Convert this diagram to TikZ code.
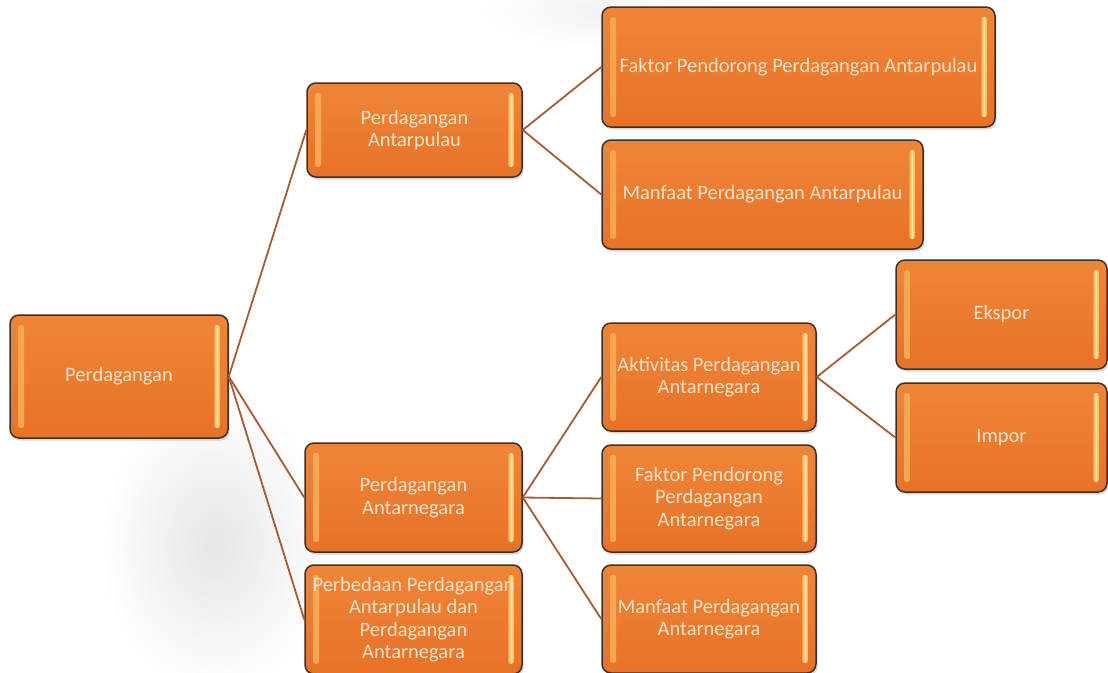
\documentclass[tikz,border=0pt]{standalone}
\usepackage{fontspec}
\setmainfont{Carlito}
\usetikzlibrary{shadows}
\definecolor{boxfill}{HTML}{EC7B2E}
\definecolor{boxtop}{HTML}{EF8538}
\definecolor{boxbot}{HTML}{E77227}
\definecolor{boxborder}{HTML}{3E3028}
\definecolor{boxtext}{HTML}{FBE2C8}
\definecolor{hlmid}{HTML}{FFE79A}
\definecolor{hledge}{HTML}{F4A04A}
\definecolor{linkcol}{HTML}{A65B30}
\tikzset{
  box/.style={rectangle, rounded corners=9pt, draw=boxborder, line width=1.5pt,
    top color=boxtop, bottom color=boxbot, text=boxtext, align=center,
    font=\fontsize{20.5}{22.5}\selectfont, inner sep=0pt,
    drop shadow={shadow xshift=1.5pt, shadow yshift=-2.5pt, opacity=0.25, fill=black!60},
    path picture={
      \shade[left color=hledge, right color=hledge, middle color=hlmid, rounded corners=2.5pt]
        ([xshift=8pt,yshift=-10pt]path picture bounding box.north west) rectangle
        ([xshift=14pt,yshift=10pt]path picture bounding box.south west);
      \shade[left color=hledge, right color=hledge, middle color=hlmid, rounded corners=2.5pt]
        ([xshift=-14pt,yshift=-10pt]path picture bounding box.north east) rectangle
        ([xshift=-8pt,yshift=10pt]path picture bounding box.south east);
    }},
  link/.style={draw=linkcol, line width=1.8pt}
}
\begin{document}
\begin{tikzpicture}[x=1pt,y=-1pt]
\useasboundingbox[fill=white] (0,0) rectangle (1108,672);
% faint background blur
\shade[inner color=black!10, outer color=white] (215,545) ellipse (115 and 150);
\shade[inner color=black!5, outer color=white] (600,10) ellipse (120 and 40);

\node[box, minimum width=218pt, minimum height=123pt] (perd) at (119,376.5) {Perdagangan};
\node[box, minimum width=215pt, minimum height=94pt] (pulau) at (414.5,130) {Perdagangan\\Antarpulau};
\node[box, minimum width=393pt, minimum height=120pt] (faktorP) at (798.5,67) {Faktor Pendorong Perdagangan Antarpulau};
\node[box, minimum width=321pt, minimum height=109pt] (manfaatP) at (762.5,194.5) {Manfaat Perdagangan Antarpulau};
\node[box, minimum width=217pt, minimum height=109pt] (negara) at (413.5,497.5) {Perdagangan\\Antarnegara};
\node[box, minimum width=217pt, minimum height=109pt] (beda) at (413.5,619.5) {Perbedaan Perdagangan\\Antarpulau dan\\Perdagangan\\Antarnegara};
\node[box, minimum width=214pt, minimum height=108pt] (aktiv) at (709,377) {Aktivitas Perdagangan\\Antarnegara};
\node[box, minimum width=214pt, minimum height=107pt] (faktorN) at (709,498.5) {Faktor Pendorong\\Perdagangan\\Antarnegara};
\node[box, minimum width=214pt, minimum height=108pt] (manfaatN) at (709,619) {Manfaat Perdagangan\\Antarnegara};
\node[box, minimum width=211pt, minimum height=109pt] (ekspor) at (1001.5,314.5) {Ekspor};
\node[box, minimum width=211pt, minimum height=109pt] (impor) at (1001.5,437.5) {Impor};

\draw[link] (perd.east) -- (pulau.west);
\draw[link] (perd.east) -- (negara.west);
\draw[link] (perd.east) -- (beda.west);
\draw[link] (pulau.east) -- (faktorP.west);
\draw[link] (pulau.east) -- (manfaatP.west);
\draw[link] (negara.east) -- (aktiv.west);
\draw[link] (negara.east) -- (faktorN.west);
\draw[link] (negara.east) -- (manfaatN.west);
\draw[link] (aktiv.east) -- (ekspor.west);
\draw[link] (aktiv.east) -- (impor.west);
\end{tikzpicture}
\end{document}
